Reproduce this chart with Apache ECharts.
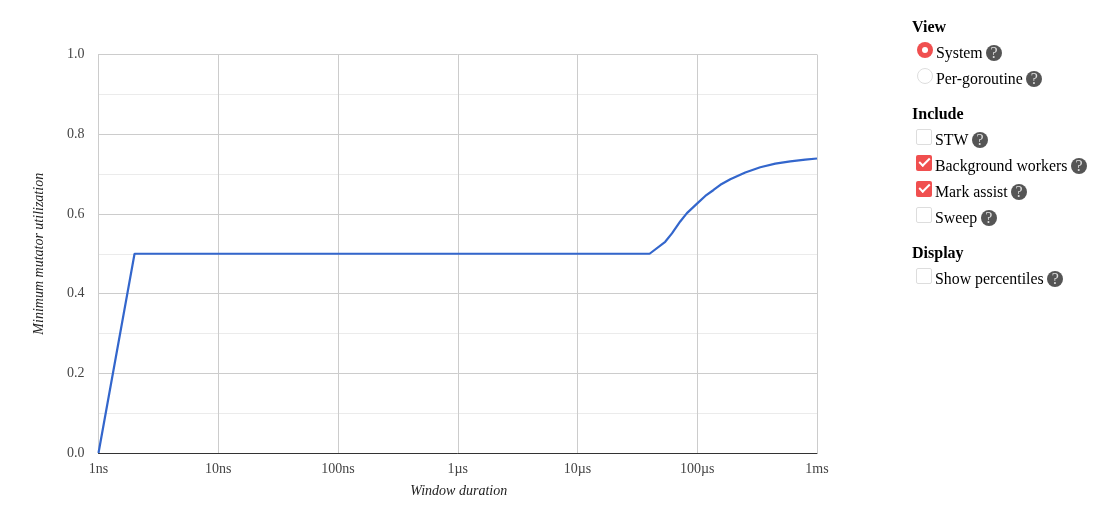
<!DOCTYPE html>
<html>
<head>
<meta charset="utf-8">
<script src="https://cdn.jsdelivr.net/npm/echarts@6/dist/echarts.min.js"></script>
<style>
html, body { margin: 0; padding: 0; background: #fff; overflow: hidden; }
body { width: 1106px; height: 517px; position: relative; font-family: "Liberation Serif", serif; font-size: 15.85px; color: #000; }
#mmu { position: absolute; left: 0; top: 0; width: 1106px; height: 517px; }
.row { position: absolute; white-space: nowrap; line-height: 18px; height: 18px; }
.head { left: 912px; font-weight: bold; font-size: 16px; }
.radio, .check { position: absolute; box-sizing: border-box; width: 16px; height: 16px; background: #fff; border: 1px solid #ddd; }
.radio { left: -19px; top: -2px; border-radius: 50%; }
.radio.on { background: #f04f4f; border: 0; }
.radio.on::after { content: ""; position: absolute; left: 5px; top: 5px; width: 6px; height: 6px; border-radius: 50%; background: #fff; }
.check { left: -19px; top: -2px; border-radius: 2px; }
.check.on { background: #f04f4f; border: 0; }
.check.on::after { content: ""; position: absolute; left: 3px; top: 3px; width: 9px; height: 4px; border-left: 2.5px solid #fff; border-bottom: 2.5px solid #fff; transform: rotate(-45deg); }
.help { display: inline-block; position: relative; top: -3px; width: 16px; height: 16px; margin-left: 3.5px; border-radius: 50%; background: #555; color: #ddd; font-size: 16px; line-height: 16px; text-align: center; vertical-align: -3px; }
</style>
</head>
<body>
<div id="mmu"></div>
<div class="row head" style="top:18px">View</div>
<div class="row" style="left:936px;top:44px"><span class="radio on"></span>System<span class="help">?</span></div>
<div class="row" style="left:936px;top:70px"><span class="radio"></span>Per-goroutine<span class="help">?</span></div>
<div class="row head" style="top:105px">Include</div>
<div class="row" style="left:935px;top:131px"><span class="check"></span>STW<span class="help">?</span></div>
<div class="row" style="left:935px;top:157px"><span class="check on"></span>Background workers<span class="help">?</span></div>
<div class="row" style="left:935px;top:183px"><span class="check on"></span>Mark assist<span class="help">?</span></div>
<div class="row" style="left:935px;top:209px"><span class="check"></span>Sweep<span class="help">?</span></div>
<div class="row head" style="top:244px">Display</div>
<div class="row" style="left:935px;top:270px"><span class="check"></span>Show percentiles<span class="help">?</span></div>
<script>
const windowNs = [1, 2, 40000, 54000, 61500, 72100, 82000, 100600, 116700, 136800, 156000, 188800, 251800, 336000, 448500, 598000, 798000, 1000000]
const mutatorUtil = [0, 0.5, 0.5, 0.53, 0.551, 0.581, 0.602, 0.627, 0.645, 0.66, 0.673, 0.687, 0.704, 0.717, 0.726, 0.732, 0.736, 0.739]
const xTickLabels = ['1ns', '10ns', '100ns', '1µs', '10µs', '100µs', '1ms']

const font = '"Liberation Serif", serif'
const chart = echarts.init(document.getElementById('mmu'), null, {renderer: 'canvas'})
chart.setOption({
    animation: false,
    grid: {left: 98.5, right: 289, top: 54.5, bottom: 64},
    xAxis: {
        type: 'log',
        logBase: 10,
        min: 1,
        max: 1000000,
        name: 'Window duration',
        nameLocation: 'middle',
        nameGap: 31,
        nameTextStyle: {fontFamily: font, fontStyle: 'italic', fontSize: 14, color: '#222', padding: [0, 0, 0, 2]},
        axisLine: {show: true, lineStyle: {color: '#333', width: 1}},
        axisTick: {show: false},
        minorTick: {show: false},
        splitLine: {show: true, lineStyle: {color: '#ccc', width: 1}},
        axisLabel: {
            fontFamily: font,
            fontSize: 14,
            color: '#444',
            margin: 9,
            showMinLabel: true,
            showMaxLabel: true,
            formatter: v => xTickLabels[Math.round(Math.log10(v))]
        }
    },
    yAxis: {
        type: 'value',
        min: 0,
        max: 1,
        interval: 0.2,
        name: 'Minimum mutator utilization',
        nameLocation: 'middle',
        nameGap: 52,
        nameTextStyle: {fontFamily: font, fontStyle: 'italic', fontSize: 14, color: '#222'},
        axisLine: {show: true, lineStyle: {color: '#ccc', width: 1}},
        axisTick: {show: false},
        splitLine: {show: true, lineStyle: {color: '#ccc', width: 1}},
        minorTick: {show: false, splitNumber: 2},
        minorSplitLine: {show: true, lineStyle: {color: '#ebebeb', width: 1}},
        axisLabel: {
            fontFamily: font,
            fontSize: 14,
            color: '#444',
            margin: 14,
            padding: [2, 0, 0, 0],
            formatter: v => v.toFixed(1)
        }
    },
    series: [{
        type: 'line',
        data: windowNs.map((x, i) => [x, mutatorUtil[i]]),
        showSymbol: false,
        smooth: false,
        clip: true,
        lineStyle: {color: '#3366cc', width: 2.2}
    }]
})
</script>
</body>
</html>
